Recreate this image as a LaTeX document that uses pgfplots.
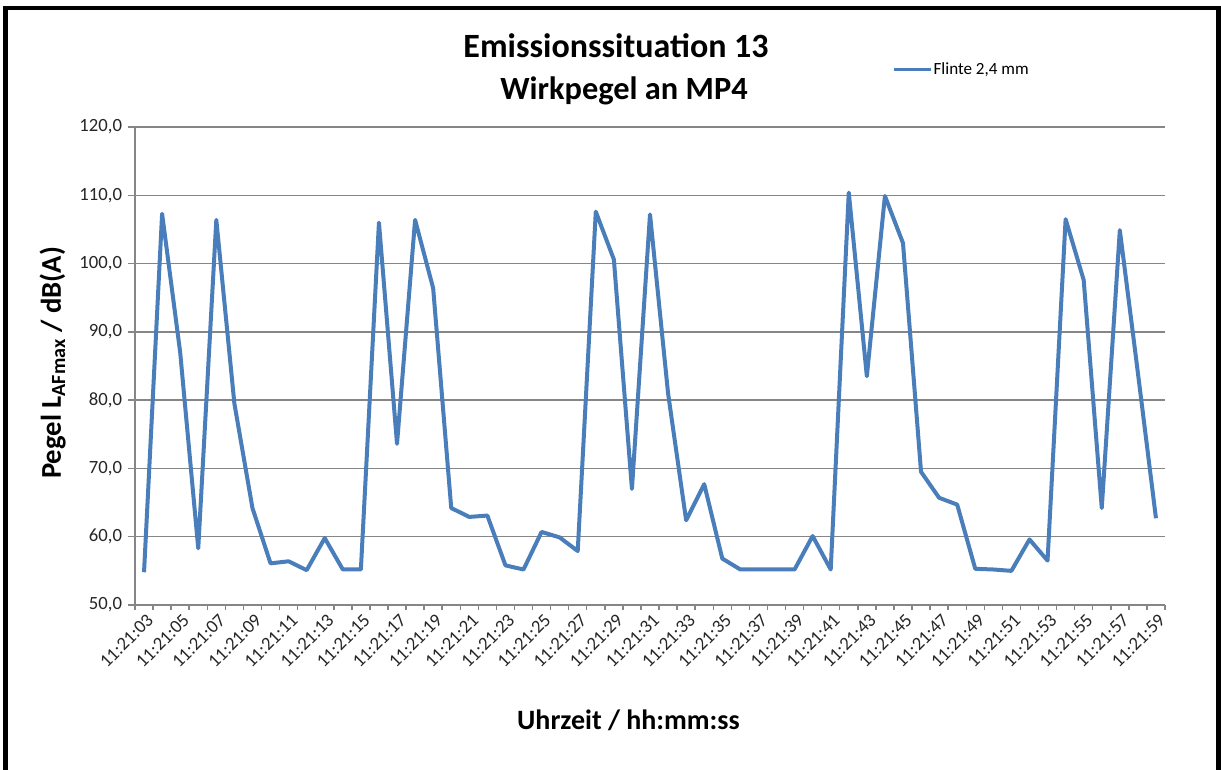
\documentclass[border=0pt]{standalone}
\usepackage{pgfplots}
\pgfplotsset{compat=1.18}
\usepackage{fontspec}
\setmainfont{Carlito}
\definecolor{excelblue}{RGB}{74,126,187}
\definecolor{gridgray}{RGB}{134,134,134}
\definecolor{ticktext}{RGB}{38,38,38}

\pgfplotstableread{
i val
0 54.8
1 107.3
2 87.0
3 58.3
4 106.4
5 79.5
6 64.2
7 56.1
8 56.4
9 55.1
10 59.8
11 55.2
12 55.2
13 106.0
14 73.6
15 106.4
16 96.4
17 64.2
18 62.9
19 63.1
20 55.8
21 55.2
22 60.7
23 59.9
24 57.9
25 107.6
26 100.6
27 67.0
28 107.2
29 81.0
30 62.4
31 67.7
32 56.8
33 55.2
34 55.2
35 55.2
36 55.2
37 60.1
38 55.2
39 110.4
40 83.5
41 109.9
42 103.0
43 69.5
44 65.7
45 64.7
46 55.3
47 55.2
48 55.0
49 59.6
50 56.5
51 106.5
52 97.6
53 64.2
54 104.9
55 84.0
56 62.7
}\datatable

\begin{document}
\begin{tikzpicture}[x=0.75pt,y=0.75pt]
\useasboundingbox (0,0) rectangle (1221,769);
\fill[white] (0,0) rectangle (1221,769);
\draw[line width=3.5pt] (5.8,-6) -- (5.8,761) -- (1218.5,761) -- (1218.5,-6);
\begin{axis}[
  at={(101.25pt,123pt)}, anchor=south west,
  scale only axis, width=772.5pt, height=358.5pt,
  xmin=-0.5, xmax=56.5, ymin=50, ymax=120,
  axis x line*=bottom, axis y line*=left,
  axis line style={gridgray, line width=1.1pt, -},
  ytick={50,60,...,120},
  ymajorgrids, major grid style={gridgray, line width=1.1pt},
  xtick={0,2,...,56},
  xticklabels={11:21:03,11:21:05,11:21:07,11:21:09,11:21:11,11:21:13,11:21:15,11:21:17,11:21:19,11:21:21,11:21:23,11:21:25,11:21:27,11:21:29,11:21:31,11:21:33,11:21:35,11:21:37,11:21:39,11:21:41,11:21:43,11:21:45,11:21:47,11:21:49,11:21:51,11:21:53,11:21:55,11:21:57,11:21:59},
  minor xtick={-0.5,0.5,...,56.5},
  tick align=outside,
  major tick length=5.25pt,
  minor tick length=3.75pt,
  every tick/.style={gridgray, line width=1.1pt},
  major x tick style={draw=none},
  tick label style={font=\fontsize{14}{16}\selectfont, text=ticktext},
  xticklabel style={rotate=45, anchor=east, inner sep=1pt, yshift=-6pt, xshift=1.5pt},
  yticklabel style={xshift=-1pt},
  /pgf/number format/.cd, fixed, fixed zerofill, precision=1, use comma, assume math mode=true,
  /pgfplots/.cd,
  legend style={at={(axis description cs:0.735,1.121)}, anchor=west, draw=none, fill=none,
    font=\fontsize{12.8}{15}\selectfont, inner sep=0pt, nodes={inner sep=0.5pt}},
  legend image code/.code={\draw[#1, line width=2.5pt] (0pt,0pt) -- (28pt,0pt);},
  clip=false,
]
\addplot[excelblue, line width=3pt, line join=round, mark=none] table[x=i, y=val] {\datatable};
\addlegendentry{Flinte 2,4 mm}
\end{axis}
\node[anchor=base, font=\bfseries\fontsize{25.5}{30}\selectfont] at (616,711) {Emissionssituation 13};
\node[anchor=base, font=\bfseries\fontsize{24.3}{28}\selectfont] at (624,669) {Wirkpegel an MP4};
\node[anchor=base, font=\bfseries\fontsize{21}{25}\selectfont] at (628.5,40) {Uhrzeit / hh:mm:ss};
\node[anchor=base, rotate=90, font=\bfseries\fontsize{21.5}{25}\selectfont] at (61,406) {Pegel L\textsubscript{AFmax} / dB(A)};
\end{tikzpicture}
\end{document}
